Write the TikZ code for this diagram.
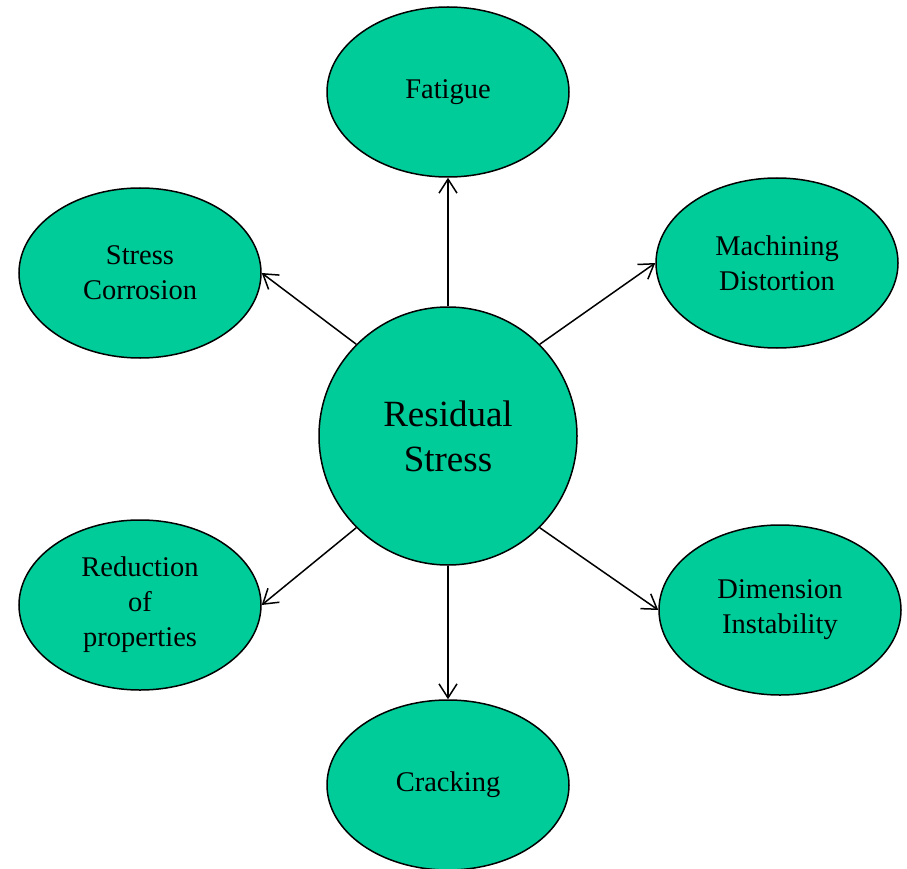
\documentclass[tikz,border=0pt]{standalone}
\usepackage{fontspec}
\setmainfont{Liberation Serif}
\usepackage{tikz}
\usetikzlibrary{shapes.geometric, arrows.meta, positioning}

\definecolor{effectgreen}{HTML}{00CC99}

\tikzset{
    effect/.style = {ellipse, draw, fill = effectgreen, line width = 1.5pt,
        minimum width = 242pt, minimum height = 170pt, inner sep = 0pt,
        align = center, font = \fontsize{28.5}{35}\selectfont},
    source/.style = {circle, draw, fill = effectgreen, line width = 1.5pt,
        minimum size = 258pt, inner sep = 0pt,
        align = center, font = \fontsize{37}{45}\selectfont},
    leadsto/.style = {-{Straight Barb[length = 14pt, width = 18pt, line width = 1.5pt]}, line width = 1.5pt}
}

\begin{document}
\begin{tikzpicture}[x = 1pt, y = -1pt]
                \useasboundingbox (0,0) rectangle (907,869);
                \node[source] (rs) at (448,436) {Residual\\Stress};
                \node[effect] (fatigue) at (448,92) {Fatigue};
                \node[effect] (corrosion) at (140,273) {Stress\\Corrosion};
                \node[effect] (distortion) at (777,263) {Machining\\Distortion};
                \node[effect] (reduction) at (140,605) {Reduction\\of\\properties};
                \node[effect] (instability) at (780,610) {Dimension\\Instability};
                \node[effect] (cracking) at (448,785) {Cracking};

                \draw[leadsto] (rs.north) -- (fatigue.south);
                \draw[leadsto] (rs.135) -- (corrosion.east);
                \draw[leadsto] (rs.45) -- (distortion.west);
                \draw[leadsto] (rs.225) -- (reduction.east);
                \draw[leadsto] (rs.-45) -- (instability.west);
                \draw[leadsto] (rs.south) -- (cracking.north);

            \end{tikzpicture}
\end{document}
